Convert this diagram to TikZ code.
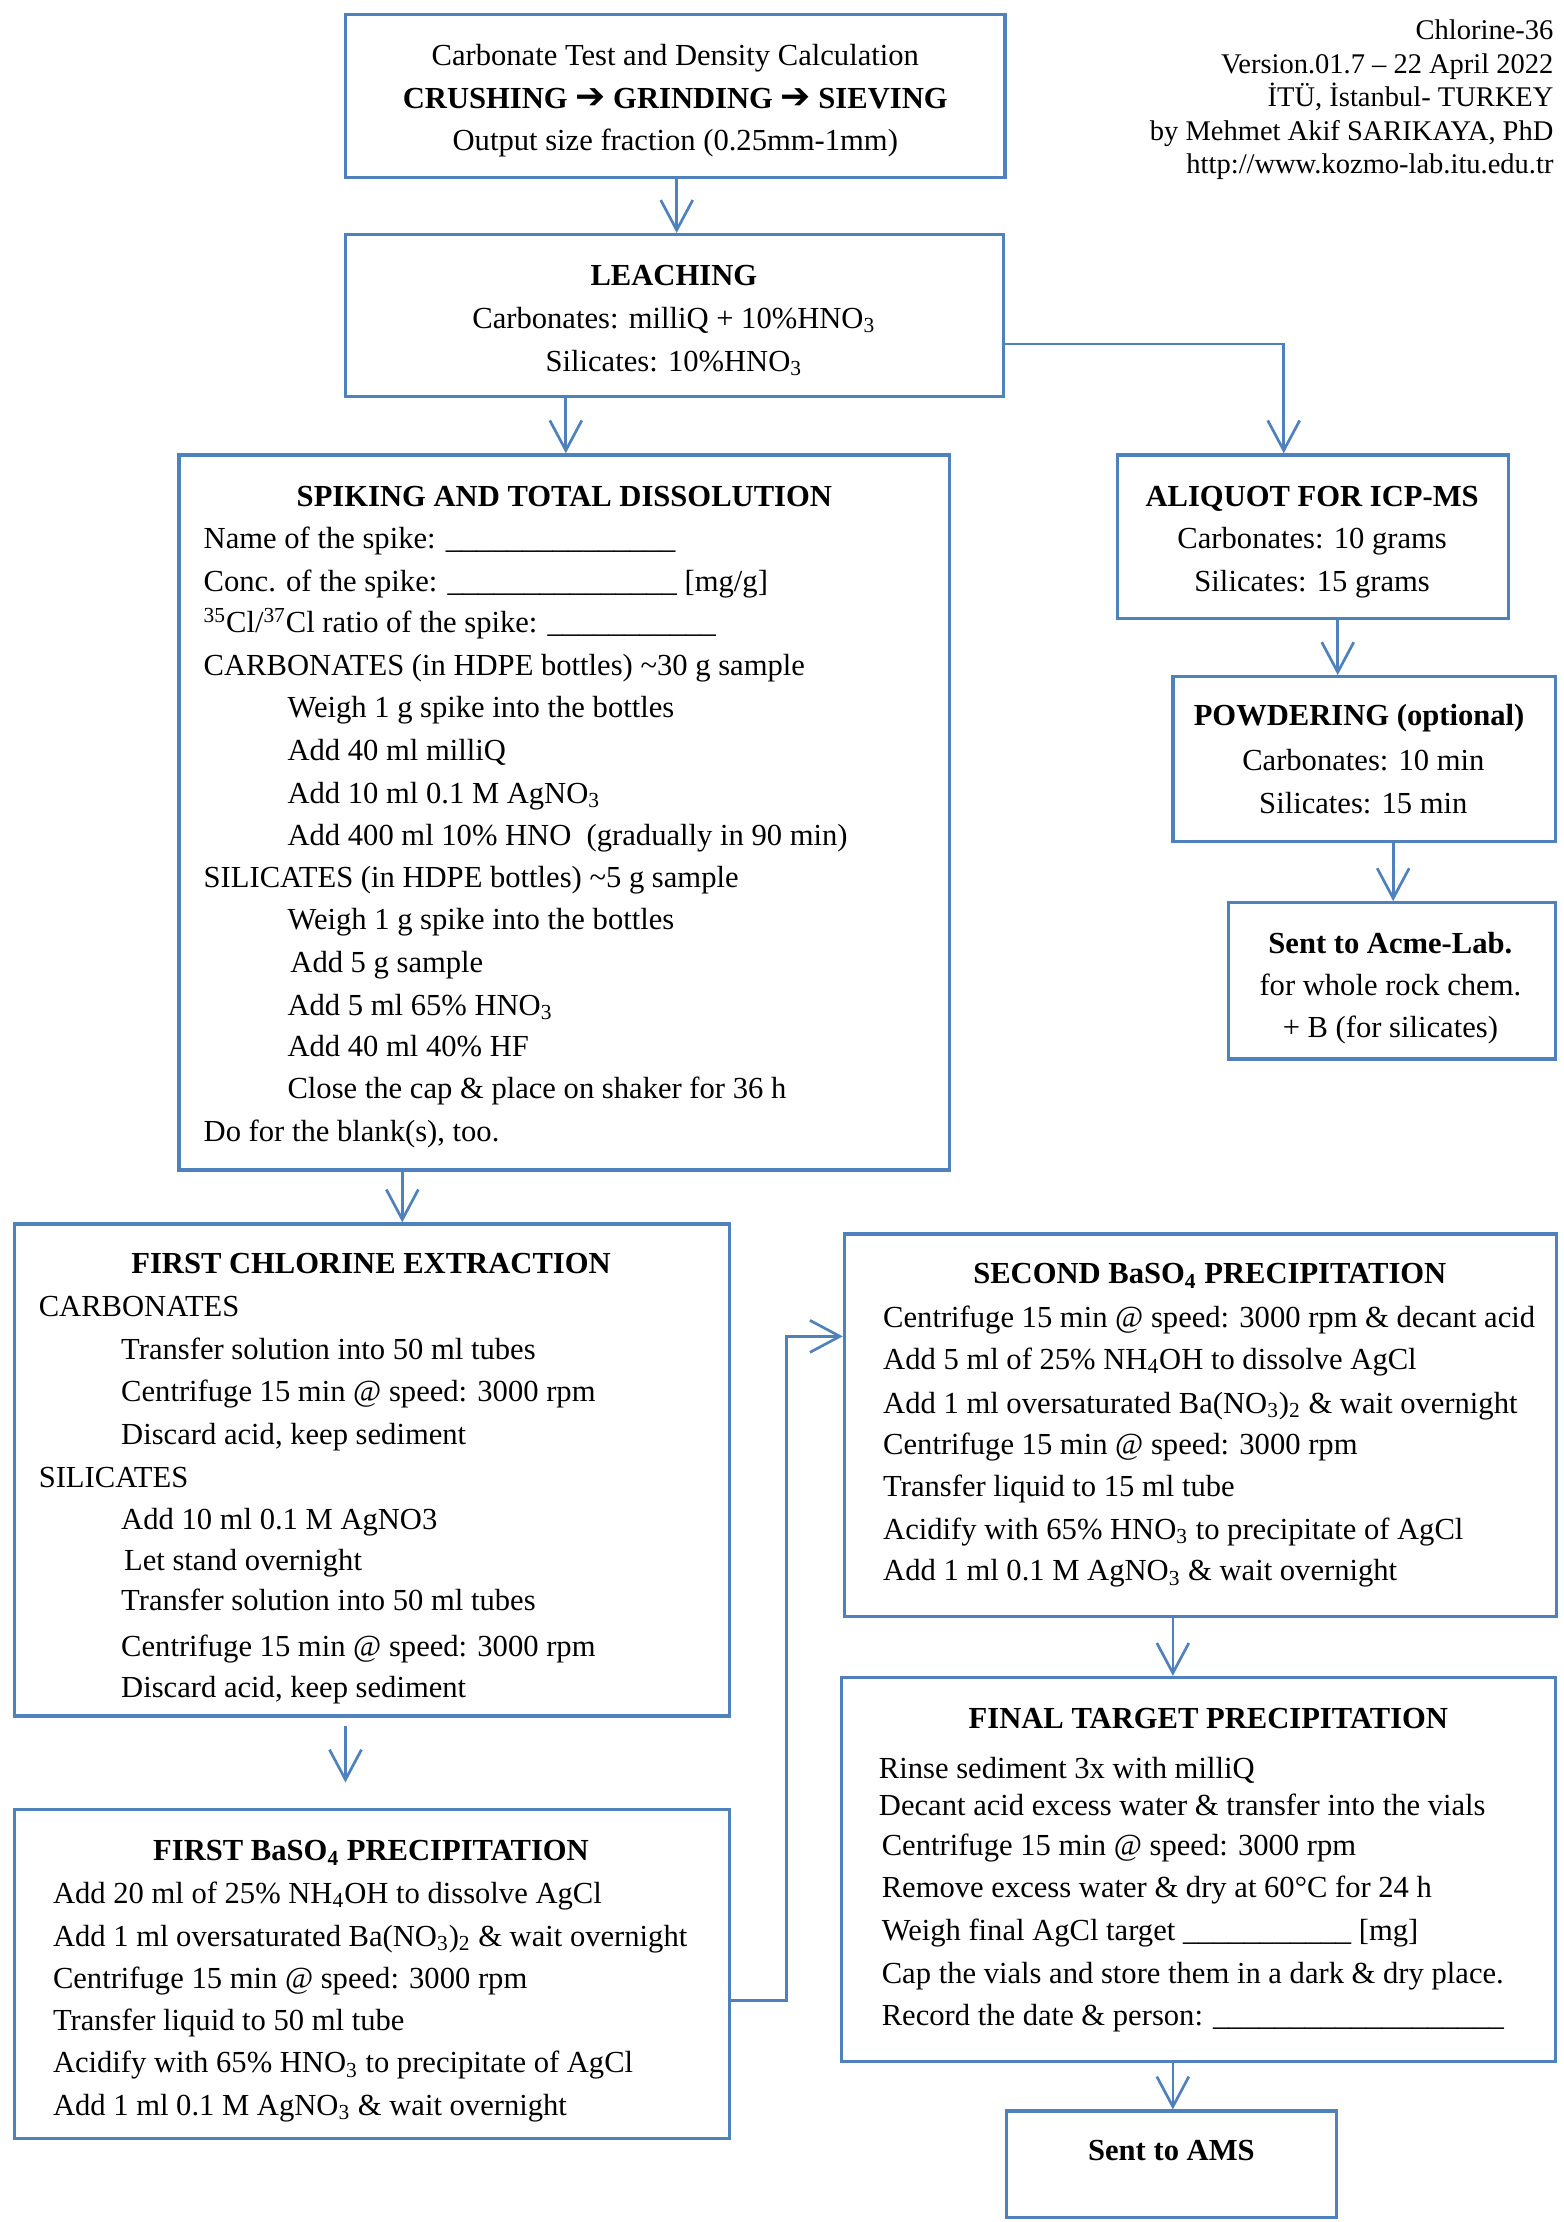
\documentclass[tikz,border=0pt]{standalone}
\usepackage{fontspec}
\setmainfont{Liberation Serif}
\newfontfamily\dejavu{DejaVu Sans}
\usetikzlibrary{arrows.meta,fit}
\definecolor{cblue}{HTML}{4F81BD}
\newcommand\fs{\fontsize{15.3}{21}\selectfont}
\newcommand\fsh{\fontsize{14.25}{17}\selectfont}
\newcommand\harr{{\dejavu\fontsize{18}{20}\selectfont\raisebox{-0.3pt}{➔}}}
\tikzset{
  box/.style={draw=cblue, line width=1.65pt, inner sep=0pt},
  arr/.style={draw=cblue, line width=1.35pt, -{Straight Barb[length=15pt, width=16pt, line width=1.35pt]}},
  tl/.style={anchor=base west, inner sep=0pt, font=\fs},
  tc/.style={anchor=base, inner sep=0pt, font=\fs},
  tb/.style={anchor=base, inner sep=0pt, font=\fs\bfseries},
  th/.style={anchor=base east, inner sep=0pt, font=\fsh},
}
\begin{document}
\begin{tikzpicture}[x=0.7109pt, y=-0.7109pt]
\useasboundingbox (0,0) rectangle (1100,1563);

% header
\node[th] (h1) at (1093,28) {Chlorine-36};
\node[th] (h2) at (1093,52) {Version.01.7 – 22 April 2022};
\node[th] (h3) at (1093,75) {İTÜ, İstanbul- TURKEY};
\node[th] (h4) at (1093,99) {by Mehmet Akif SARIKAYA, PhD};
\node[th] (h5) at (1093,122) {http://www.kozmo-lab.itu.edu.tr};

% boxes
\node[box, fit={(243,10) (707,125)}] (top) {};
\node[box, fit={(243,165) (706,279)}] (leach) {};
\node[box, fit={(126,320) (668,823)}] (spike) {};
\node[box, fit={(786,320) (1061,435)}] (aliq) {};
\node[box, fit={(825,476) (1094,592)}] (powder) {};
\node[box, fit={(864,635) (1094,745)}] (acme) {};
\node[box, fit={(10,861) (513,1207)}] (fce) {};
\node[box, fit={(10,1273) (513,1504)}] (fb) {};
\node[box, fit={(594,868) (1095,1137)}] (sb) {};
\node[box, fit={(592,1180) (1094,1450)}] (ft) {};
\node[box, fit={(708,1485) (940,1560)}] (ams) {};

% top box text
\node[tc] (t1) at (475,46) {Carbonate Test and Density Calculation};
\node[tb] (t2) at (475,76) {CRUSHING \harr{} GRINDING \harr{} SIEVING};
\node[tc] (t3) at (475,106) {Output size fraction (0.25mm-1mm)};

% leaching
\node[tb] (l1) at (474,201) {LEACHING};
\node[tc] (l2) at (474,231) {Carbonates: milliQ + 10\%HNO\textsubscript{3}};
\node[tc] (l3) at (474,261) {Silicates: 10\%HNO\textsubscript{3}};

% spiking
\node[tb] (s0) at (397,356) {SPIKING AND TOTAL DISSOLUTION};
\node[tl] (s1) at (143,386) {Name of the spike: \_\_\_\_\_\_\_\_\_\_\_\_\_\_\_};
\node[tl] (s2) at (143,416) {Conc. of the spike: \_\_\_\_\_\_\_\_\_\_\_\_\_\_\_ [mg/g]};
\node[tl] (s3) at (143,445) {\textsuperscript{35}Cl/\textsuperscript{37}Cl ratio of the spike: \_\_\_\_\_\_\_\_\_\_\_};
\node[tl] (s4) at (143,475) {CARBONATES (in HDPE bottles) \textasciitilde30 g sample};
\node[tl] (s5) at (202,505) {Weigh 1 g spike into the bottles};
\node[tl] (s6) at (202,535) {Add 40 ml milliQ};
\node[tl] (s7) at (202,565) {Add 10 ml 0.1 M AgNO\textsubscript{3}};
\node[tl] (s8) at (202,595) {Add 400 ml 10\% HNO\hspace{0.5em}(gradually in 90 min)};
\node[tl] (s9) at (143,624) {SILICATES (in HDPE bottles) \textasciitilde5 g sample};
\node[tl] (s10) at (202,654) {Weigh 1 g spike into the bottles};
\node[tl] (s11) at (204,684) {Add 5 g sample};
\node[tl] (s12) at (202,714) {Add 5 ml 65\% HNO\textsubscript{3}};
\node[tl] (s13) at (202,743) {Add 40 ml 40\% HF};
\node[tl] (s14) at (202,773) {Close the cap \& place on shaker for 36 h};
\node[tl] (s15) at (143,803) {Do for the blank(s), too.};

% aliquot
\node[tb] (a1) at (923,356) {ALIQUOT FOR ICP-MS};
\node[tc] (a2) at (923,386) {Carbonates: 10 grams};
\node[tc] (a3) at (923,416) {Silicates: 15 grams};

% powdering
\node[tb] (p1) at (956,510) {POWDERING (optional)};
\node[tc] (p2) at (959,542) {Carbonates: 10 min};
\node[tc] (p3) at (959,572) {Silicates: 15 min};

% acme
\node[tb] (c1) at (978,671) {Sent to Acme-Lab.};
\node[tc] (c2) at (978,700) {for whole rock chem.};
\node[tc] (c3) at (978,730) {+ B (for silicates)};

% first chlorine extraction
\node[tb] (f0) at (261,896) {FIRST CHLORINE EXTRACTION};
\node[tl] (f1) at (27,926) {CARBONATES};
\node[tl] (f2) at (85,956) {Transfer solution into 50 ml tubes};
\node[tl] (f3) at (85,986) {Centrifuge 15 min @ speed: 3000 rpm};
\node[tl] (f4) at (85,1016) {Discard acid, keep sediment};
\node[tl] (f5) at (27,1046) {SILICATES};
\node[tl] (f6) at (85,1076) {Add 10 ml 0.1 M AgNO3};
\node[tl] (f7) at (87,1105) {Let stand overnight};
\node[tl] (f8) at (85,1133) {Transfer solution into 50 ml tubes};
\node[tl] (f9) at (85,1165) {Centrifuge 15 min @ speed: 3000 rpm};
\node[tl] (f10) at (85,1194) {Discard acid, keep sediment};

% first BaSO4
\node[tb] (b0) at (261,1309) {FIRST BaSO\textsubscript{4} PRECIPITATION};
\node[tl] (b1) at (37,1339) {Add 20 ml of 25\% NH\textsubscript{4}OH to dissolve AgCl};
\node[tl] (b2) at (37,1369) {Add 1 ml oversaturated Ba(NO\textsubscript{3})\textsubscript{2} \& wait overnight};
\node[tl] (b3) at (37,1399) {Centrifuge 15 min @ speed: 3000 rpm};
\node[tl] (b4) at (37,1428) {Transfer liquid to 50 ml tube};
\node[tl] (b5) at (37,1458) {Acidify with 65\% HNO\textsubscript{3} to precipitate of AgCl};
\node[tl] (b6) at (37,1488) {Add 1 ml 0.1 M AgNO\textsubscript{3} \& wait overnight};

% second BaSO4
\node[tb] (d0) at (851,903) {SECOND BaSO\textsubscript{4} PRECIPITATION};
\node[tl] (d1) at (621,934) {Centrifuge 15 min @ speed: 3000 rpm \& decant acid};
\node[tl] (d2) at (621,963) {Add 5 ml of 25\% NH\textsubscript{4}OH to dissolve AgCl};
\node[tl] (d3) at (621,994) {Add 1 ml oversaturated Ba(NO\textsubscript{3})\textsubscript{2} \& wait overnight};
\node[tl] (d4) at (621,1023) {Centrifuge 15 min @ speed: 3000 rpm};
\node[tl] (d5) at (621,1053) {Transfer liquid to 15 ml tube};
\node[tl] (d6) at (621,1083) {Acidify with 65\% HNO\textsubscript{3} to precipitate of AgCl};
\node[tl] (d7) at (621,1112) {Add 1 ml 0.1 M AgNO\textsubscript{3} \& wait overnight};

% final target
\node[tb] (g0) at (850,1216) {FINAL TARGET PRECIPITATION};
\node[tl] (g1) at (618,1251) {Rinse sediment 3x with milliQ};
\node[tl] (g2) at (618,1277) {Decant acid excess water \& transfer into the vials};
\node[tl] (g3) at (620,1305) {Centrifuge 15 min @ speed: 3000 rpm};
\node[tl] (g4) at (620,1335) {Remove excess water \& dry at 60°C for 24 h};
\node[tl] (g5) at (620,1365) {Weigh final AgCl target \_\_\_\_\_\_\_\_\_\_\_ [mg]};
\node[tl] (g6) at (620,1395) {Cap the vials and store them in a dark \& dry place.};
\node[tl] (g7) at (620,1425) {Record the date \& person: \_\_\_\_\_\_\_\_\_\_\_\_\_\_\_\_\_\_\_};

% AMS
\node[tb] (m0) at (824,1520) {Sent to AMS};

% connector helper coordinates
\coordinate (x1) at (476,0);
\coordinate (x2) at (398,0);
\coordinate (lj) at (903,242);
\coordinate (x3) at (941,0);
\coordinate (x4) at (980,0);
\coordinate (x5) at (283,0);
\coordinate (x6) at (243,0);
\coordinate (j1) at (553,1407);
\coordinate (j2) at (553,940);
\coordinate (x7) at (825,0);

% connectors
\draw[arr] (top.south -| x1) -- (leach.north -| x1);
\draw[arr] (leach.south -| x2) -- (spike.north -| x2);
\draw[arr] (leach.east |- lj) -- (lj) -- (aliq.north -| lj);
\draw[arr] (aliq.south -| x3) -- (powder.north -| x3);
\draw[arr] (powder.south -| x4) -- (acme.north -| x4);
\draw[arr] (spike.south -| x5) -- (fce.north -| x5);
\draw[arr] ([yshift=-4.3pt]fce.south -| x6) -- ([yshift=12.8pt]fb.north -| x6);
\draw[arr] (fb.east |- j1) -- (j1) -- (j2) -- (sb.west |- j2);
\draw[arr] (sb.south -| x7) -- (ft.north -| x7);
\draw[arr] (ft.south -| x7) -- (ams.north -| x7);
\end{tikzpicture}
\end{document}
